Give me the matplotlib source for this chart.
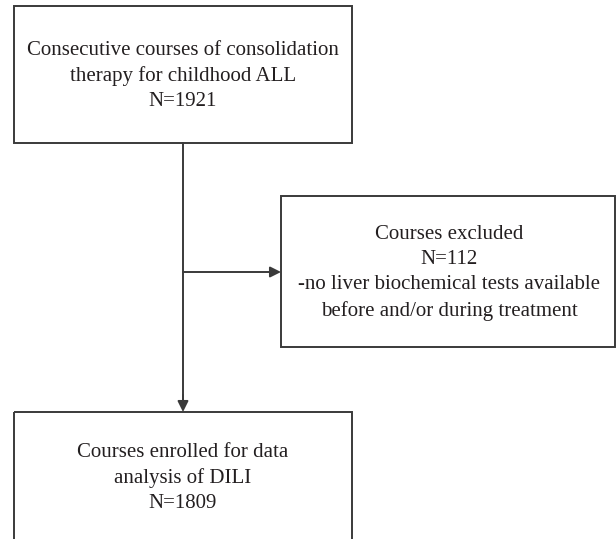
import matplotlib
matplotlib.use("Agg")
import matplotlib.pyplot as plt
from matplotlib.patches import Rectangle

# Flowchart content
box_titles = ["Consecutive courses of consolidation\ntherapy for childhood ALL",
              "Courses excluded",
              "Courses enrolled for data\nanalysis of DILI"]
box_counts = [1921, 112, 1809]
box_notes = ["", "-no liver biochemical tests available\nbefore and/or during treatment", ""]

W, H = 616, 539
fig = plt.figure(figsize=(W / 100, H / 100), dpi=100)
ax = fig.add_axes([0, 0, 1, 1])
ax.set_xlim(0, W)
ax.set_ylim(H, 0)
ax.axis("off")

lc = "#3a3a3a"
lw = 1.4
font = dict(family=["Liberation Serif", "DejaVu Serif"], fontsize=15, color="#231f20")

# boxes: (x0, y0, x1, y1)
boxes = [(14, 6, 352, 143), (281, 196, 615, 347), (14, 412, 352, 570)]
for (x0, y0, x1, y1) in boxes:
    ax.add_patch(Rectangle((x0, y0), x1 - x0, y1 - y0, fill=False, ec=lc, lw=lw))

def label(i):
    parts = [box_titles[i], f"N={box_counts[i]}"]
    if box_notes[i]:
        parts.append(box_notes[i])
    return "\n".join(parts)

text_pos = [(183, 76), (449, 273), (183, 478)]
for i, (x, y) in enumerate(text_pos):
    ax.text(x, y, label(i), ha="center", va="center", linespacing=1.43, **font)

# connectors
xv = 183
ax.plot([xv, xv], [143, 400], color=lc, lw=lw)
ax.annotate("", xy=(xv, 412), xytext=(xv, 395),
            arrowprops=dict(arrowstyle="-|>", color=lc, lw=lw, mutation_scale=16,
                            shrinkA=0, shrinkB=0))
ax.annotate("", xy=(281, 272), xytext=(xv, 272),
            arrowprops=dict(arrowstyle="-|>", color=lc, lw=lw, mutation_scale=16,
                            shrinkA=0, shrinkB=0))

fig.savefig("out.png", dpi=100, facecolor="white")
